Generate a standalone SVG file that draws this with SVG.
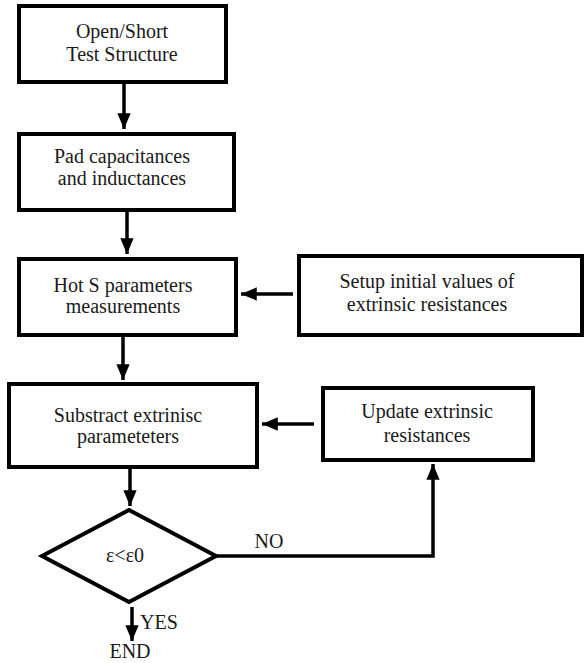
<svg xmlns="http://www.w3.org/2000/svg" width="584" height="663" viewBox="0 0 584 663">
<defs>
<style>
.box{fill:#fff;stroke:#000;stroke-width:4}
.t{font-family:"Liberation Serif","Times New Roman",serif;font-size:20px;fill:#1a1a1a;text-anchor:middle}
.c{fill:none;stroke:#000;stroke-width:3.5}
</style>
<marker id="ah" viewBox="0 0 10 10" refX="10" refY="5" markerWidth="4.5" markerHeight="3.8" markerUnits="strokeWidth" orient="auto" preserveAspectRatio="none">
<path d="M0,0 L10,5 L0,10 Z" fill="#000"/>
</marker>
</defs>
<rect width="584" height="663" fill="#fff"/>
<g id="n1"><rect class="box" x="19" y="6" width="207" height="76"/>
<text class="t" x="122" y="38">Open/Short</text><text class="t" x="122" y="61">Test Structure</text></g>
<g id="n2"><rect class="box" x="19" y="134" width="215" height="76"/>
<text class="t" x="122" y="163">Pad capacitances</text><text class="t" x="122" y="185">and inductances</text></g>
<g id="n3"><rect class="box" x="19" y="259" width="217" height="76"/>
<text class="t" x="123" y="292">Hot S parameters</text><text class="t" x="123" y="313">measurements</text></g>
<g id="n4"><rect class="box" x="299" y="256" width="283" height="79"/>
<text class="t" x="427" y="288">Setup initial values of</text><text class="t" x="427" y="311">extrinsic resistances</text></g>
<g id="n5"><rect class="box" x="9" y="384" width="248" height="83"/>
<text class="t" x="128" y="422">Substract extrinisc</text><text class="t" x="128" y="443">parameteters</text></g>
<g id="n6"><rect class="box" x="323" y="388" width="210" height="72"/>
<text class="t" x="427" y="418">Update extrinsic</text><text class="t" x="427" y="442">resistances</text></g>
<g id="n7"><polygon class="box" points="42,556 129,510 216,556 129,602"/>
<text class="t" x="125" y="562">ε&lt;ε0</text></g>
<g id="connectors">
<line class="c" x1="124" y1="84" x2="124" y2="129" marker-end="url(#ah)"/>
<line class="c" x1="127" y1="212" x2="127" y2="254" marker-end="url(#ah)"/>
<line class="c" x1="293" y1="294" x2="241" y2="294" marker-end="url(#ah)"/>
<line class="c" x1="123" y1="337" x2="123" y2="380" marker-end="url(#ah)"/>
<line class="c" x1="314" y1="424" x2="262" y2="424" marker-end="url(#ah)"/>
<line class="c" x1="130" y1="469" x2="130" y2="506" marker-end="url(#ah)"/>
<polyline class="c" points="216,556 433,556 433,464" marker-end="url(#ah)"/>
<line class="c" x1="132" y1="607" x2="132" y2="641" marker-end="url(#ah)"/>
<text class="t" x="269" y="548">NO</text>
<text class="t" x="159" y="629">YES</text>
<text class="t" x="130" y="658">END</text>
</g>
</svg>
